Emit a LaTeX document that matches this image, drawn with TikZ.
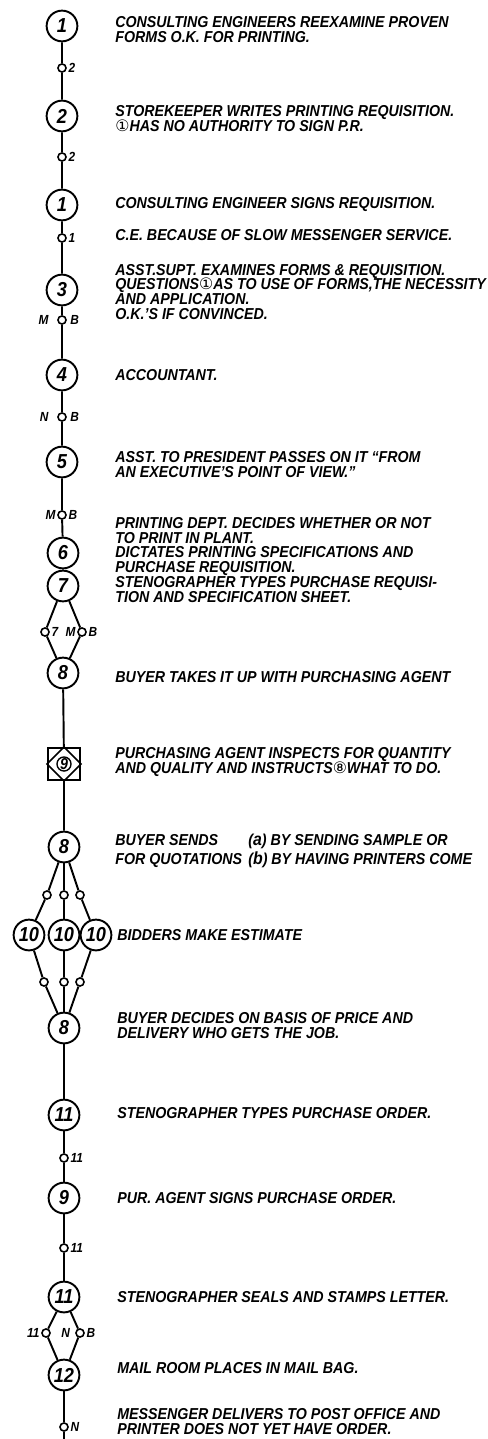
\documentclass[tikz,border=0pt]{standalone}
\usepackage{fontspec}
\setmainfont{Liberation Sans}[FakeStretch=0.9]
\newfontfamily\symfont{DejaVu Sans}
\usetikzlibrary{positioning}
\newcommand{\notefont}{\fontsize{9}{8.5}\selectfont\lineskiplimit=-10pt\bfseries\itshape}
\newcommand{\numfont}{\fontsize{11.5}{11.5}\selectfont\bfseries\itshape}
\newcommand{\lblfont}{\fontsize{7.5}{7.5}\selectfont\bfseries\itshape}
\newcommand{\cnum}[1]{{\symfont\mdseries\upshape #1}}
\newcommand{\alt}[1]{{\fontsize{10}{8.5}\selectfont #1}}
\begin{document}
\begin{tikzpicture}[x=0.02cm,y=-0.02cm,
  stage/.style={circle,draw,line width=1.1pt,minimum size=17.5pt,inner sep=0pt,font=\numfont},
  chk/.style={circle,draw,line width=0.9pt,minimum size=4.6pt,inner sep=0pt},
  insp/.style={rectangle,draw,line width=1.1pt,minimum size=18.2pt,inner sep=0pt},
  link/.style={line width=1.1pt},
  note/.style={anchor=west,align=left,inner sep=0pt,font=\notefont},
  side/.style={inner sep=0.8pt,font=\lblfont}]
\useasboundingbox (0,0) rectangle (487,1439);
\node[stage] (c1a) at (62,26) {1};
\node[chk] (s1) at (62,68) {};
\node[stage] (c2) at (62,116) {2};
\node[chk] (s2) at (62,157) {};
\node[stage] (c1b) at (62,205) {1};
\node[chk] (s3) at (62,238) {};
\node[stage] (c3) at (62,290) {3};
\node[chk] (s4) at (62,320) {};
\node[stage] (c4) at (62,375) {4};
\node[chk] (s5) at (62,417) {};
\node[stage] (c5) at (62,462) {5};
\node[chk] (s6) at (62,515) {};
\node[stage] (c6) at (63,553) {6};
\node[stage] (c7) at (63,586) {7};
\node[chk] (s7l) at (45,632) {};
\node[chk] (s7r) at (82,632) {};
\node[stage] (c8a) at (63,673) {8};
\node[insp] (sq9) at (64,764) {};
\node[stage] (c8b) at (64,847) {8};
\node[chk] (f1) at (47,895) {};
\node[chk] (f2) at (64,895) {};
\node[chk] (f3) at (80,895) {};
\node[stage] (c10a) at (29,935) {10};
\node[stage] (c10b) at (64,935) {10};
\node[stage] (c10c) at (96,935) {10};
\node[chk] (g1) at (44,982) {};
\node[chk] (g2) at (64,982) {};
\node[chk] (g3) at (80,982) {};
\node[stage] (c8c) at (64,1028) {8};
\node[stage] (c11a) at (64,1115) {11};
\node[chk] (s11a) at (64,1158) {};
\node[stage] (c9) at (64,1198) {9};
\node[chk] (s11b) at (64,1248) {};
\node[stage] (c11b) at (64,1297) {11};
\node[chk] (s12l) at (46,1333) {};
\node[chk] (s12r) at (80,1333) {};
\node[stage] (c12) at (64,1375) {12};
\node[chk] (s13) at (64,1427) {};
\coordinate (tail) at (64,1439);

\draw[line width=0.9pt] (sq9.north) -- (sq9.east) -- (sq9.south) -- (sq9.west) -- cycle;
\node[circle,draw,line width=0.8pt,minimum size=8pt,inner sep=0pt,font=\fontsize{9}{9}\selectfont\bfseries\itshape] at (sq9) {9};

\draw[link] (c1a) -- (s1) -- (c2) -- (s2) -- (c1b) -- (s3) -- (c3) -- (s4) -- (c4) -- (s5) -- (c5) -- (s6) -- (c6) -- (c7);
\draw[link] (c7) -- (s7l) -- (c8a);
\draw[link] (c7) -- (s7r) -- (c8a);
\draw[link] (c8a) -- (sq9) -- (c8b);
\draw[link] (c8b) -- (f1) -- (c10a) -- (g1) -- (c8c);
\draw[link] (c8b) -- (f2) -- (c10b) -- (g2) -- (c8c);
\draw[link] (c8b) -- (f3) -- (c10c) -- (g3) -- (c8c);
\draw[link] (c8c) -- (c11a) -- (s11a) -- (c9) -- (s11b) -- (c11b);
\draw[link] (c11b) -- (s12l) -- (c12);
\draw[link] (c11b) -- (s12r) -- (c12);
\draw[link] (c12) -- (s13) -- (tail);

\node[side,right=0pt of s1] {2};
\node[side,right=0pt of s2] {2};
\node[side,right=0pt of s3] {1};
\node[side,left=4pt of s4] {M};
\node[side,right=1pt of s4] {B};
\node[side,left=4pt of s5] {N};
\node[side,right=1pt of s5] {B};
\node[side,left=0pt of s6] {M};
\node[side,right=0pt of s6] {B};
\node[side,right=0pt of s7l] {7};
\node[side,left=0pt of s7r] {M};
\node[side,right=0pt of s7r] {B};
\node[side,right=0pt of s11a] {11};
\node[side,right=0pt of s11b] {11};
\node[side,left=0pt of s12l] {11};
\node[side,left=2pt of s12r] {N};
\node[side,right=0pt of s12r] {B};
\node[side,right=0pt of s13] {N};

\node[note] (t1) at (115,30) {CONSULTING ENGINEERS REEXAMINE PROVEN\\FORMS O.K. FOR PRINTING.};
\node[note] (t2) at (115,119) {STOREKEEPER WRITES PRINTING REQUISITION.\\\cnum{①}HAS NO AUTHORITY TO SIGN P.R.};
\node[note] (t3) at (115,205) {CONSULTING ENGINEER SIGNS REQUISITION.};
\node[note] (t4) at (115,235) {C.E. BECAUSE OF SLOW MESSENGER SERVICE.};
\node[note] (t5) at (115,292) {ASST.SUPT. EXAMINES FORMS \& REQUISITION.\\QUESTIONS\cnum{①}AS TO USE OF FORMS,THE NECESSITY\\AND APPLICATION.\\O.K.’S IF CONVINCED.};
\node[note] (t6) at (115,375) {ACCOUNTANT.};
\node[note] (t7) at (115,465) {ASST. TO PRESIDENT PASSES ON IT “FROM\\AN EXECUTIVE’S POINT OF VIEW.”};
\node[note] (t8) at (115,560) {PRINTING DEPT. DECIDES WHETHER OR NOT\\TO PRINT IN PLANT.\\DICTATES PRINTING SPECIFICATIONS AND\\PURCHASE REQUISITION.\\STENOGRAPHER TYPES PURCHASE REQUISI-\\TION AND SPECIFICATION SHEET.};
\node[note] (t9) at (115,677) {BUYER TAKES IT UP WITH PURCHASING AGENT};
\node[note] (t10) at (115,762) {PURCHASING AGENT INSPECTS FOR QUANTITY\\AND QUALITY AND INSTRUCTS\cnum{⑧}WHAT TO DO.};
\node[note] (t11) at (115,851) {BUYER SENDS\\[2pt]FOR QUOTATIONS};
\node[note] (t12) at (248,851) {(\alt{a}) BY SENDING SAMPLE OR\\[2pt](\alt{b}) BY HAVING PRINTERS COME};
\node[note] (t13) at (117,935) {BIDDERS MAKE ESTIMATE};
\node[note] (t14) at (117,1026) {BUYER DECIDES ON BASIS OF PRICE AND\\DELIVERY WHO GETS THE JOB.};
\node[note] (t15) at (117,1113) {STENOGRAPHER TYPES PURCHASE ORDER.};
\node[note] (t16) at (117,1198) {PUR. AGENT SIGNS PURCHASE ORDER.};
\node[note] (t17) at (117,1297) {STENOGRAPHER SEALS AND STAMPS LETTER.};
\node[note] (t18) at (117,1368) {MAIL ROOM PLACES IN MAIL BAG.};
\node[note] (t19) at (117,1422) {MESSENGER DELIVERS TO POST OFFICE AND\\PRINTER DOES NOT YET HAVE ORDER.};
\end{tikzpicture}
\end{document}
